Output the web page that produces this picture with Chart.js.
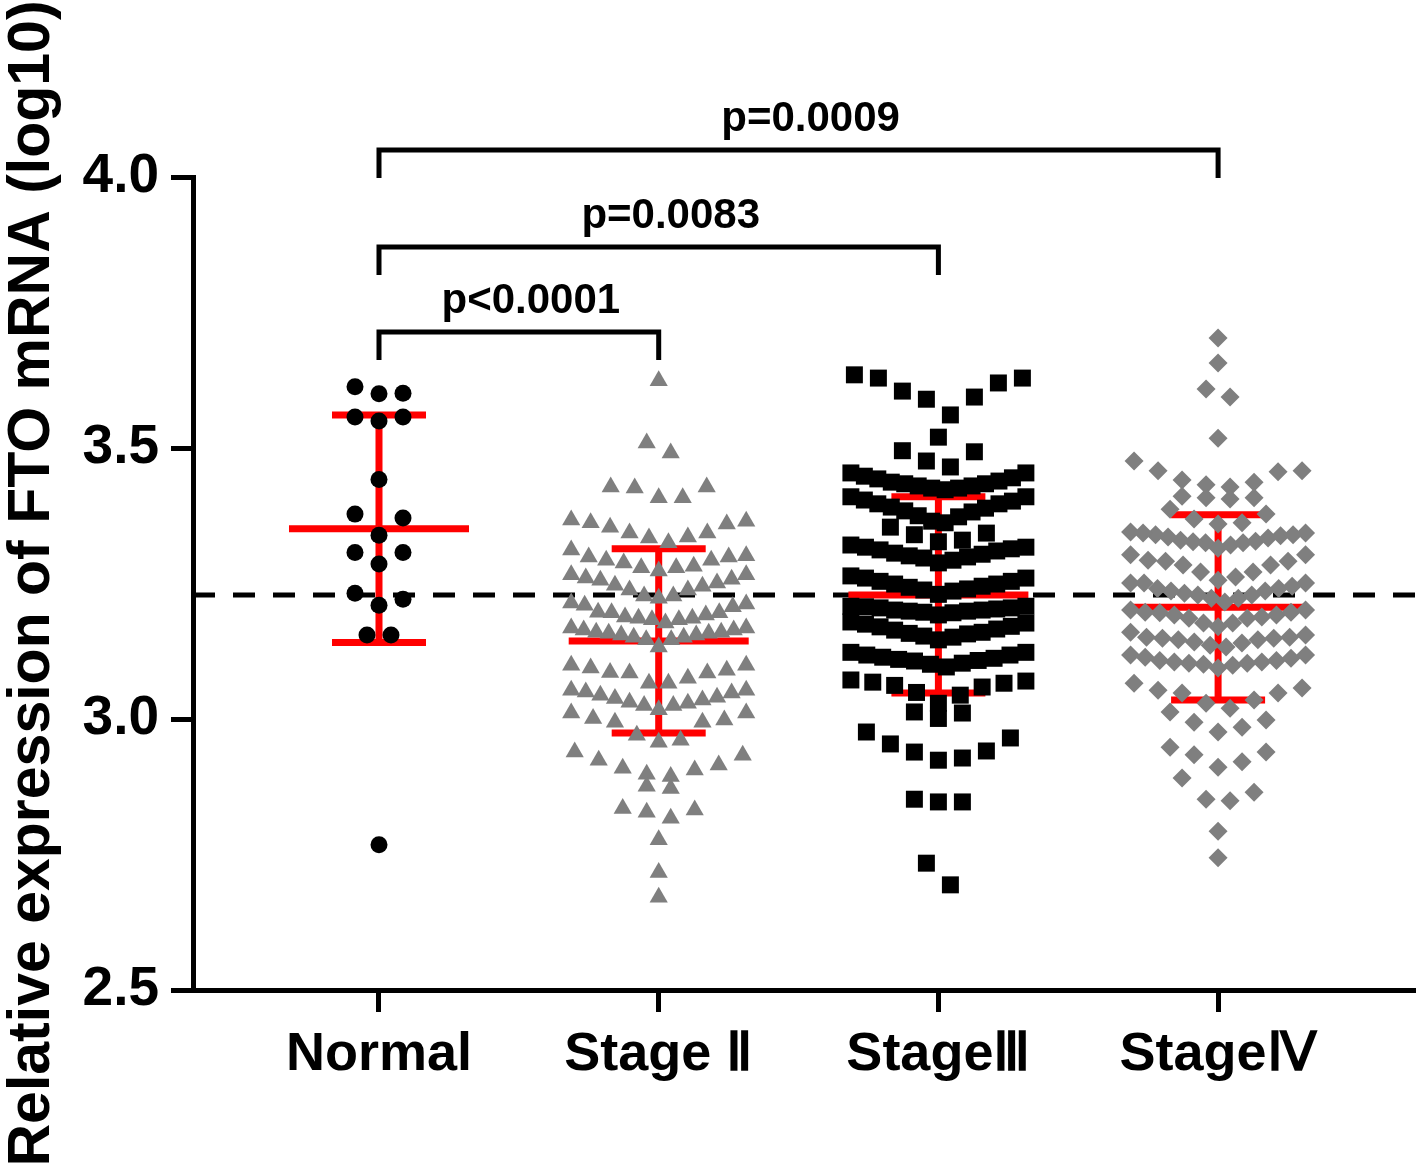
<!DOCTYPE html>
<html>
<head>
<meta charset="utf-8">
<script src="https://cdn.jsdelivr.net/npm/chart.js@4.4.1/dist/chart.umd.min.js"></script>
<style>
  html, body { margin: 0; padding: 0; background: #fff; overflow: hidden; }
  #wrap { width: 1418px; height: 1171px; position: relative; }
  #fto { display: block; }
</style>
</head>
<body>
<div id="wrap"><canvas id="fto"></canvas></div>
<script>
// groups on the x axis
const groups = ['Normal', 'Stage Ⅱ', 'StageⅢ', 'StageⅣ'];

// log10 expression (one inner array = one row of the swarm)
const normalRows = [
  [3.601, 3.600, 3.613],
  [3.557, 3.550, 3.557],
  [3.442],
  [3.378, 3.371, 3.339],
  [3.307, 3.307, 3.286],
  [3.232, 3.221, 3.210],
  [3.155, 3.155],
  [2.768]
];

const stage2Rows = [
  [3.624],
  [3.509, 3.491],
  [3.428, 3.426, 3.408, 3.408, 3.428],
  [3.367, 3.362, 3.354, 3.343, 3.334, 3.325, 3.336, 3.343, 3.360, 3.365],
  [3.312, 3.299, 3.293, 3.288, 3.279, 3.273, 3.279, 3.282, 3.293, 3.299, 3.301],
  [3.266, 3.258, 3.251, 3.245, 3.238, 3.227, 3.223, 3.227, 3.238, 3.247, 3.256, 3.260, 3.266],
  [3.214, 3.212, 3.207, 3.196, 3.188, 3.186, 3.183, 3.177, 3.183, 3.186, 3.192, 3.196, 3.197, 3.210],
  [3.168, 3.164, 3.160, 3.158, 3.155, 3.151, 3.146, 3.133, 3.146, 3.151, 3.155, 3.158, 3.160, 3.164, 3.168],
  [3.099, 3.090, 3.085, 3.075, 3.066, 3.066, 3.085, 3.086, 3.094, 3.099],
  [3.053, 3.048, 3.040, 3.035, 3.029, 3.025, 3.017, 3.025, 3.031, 3.038, 3.044, 3.050, 3.053],
  [3.011, 3.001, 2.994, 2.970, 2.994, 2.998, 3.011, 2.957, 2.961],
  [2.933, 2.924, 2.939, 2.909, 2.898, 2.894, 2.906, 2.915],
  [2.872, 2.876],
  [2.832, 2.817, 2.828, 2.835],
  [2.777],
  [2.717],
  [2.671]
];

const stage3Rows = [
  [3.629, 3.620, 3.594, 3.590, 3.561, 3.605, 3.629, 3.635],
  [3.520],
  [3.495, 3.493, 3.476, 3.465],
  [3.454, 3.445, 3.439, 3.434, 3.430, 3.426, 3.423, 3.426, 3.430, 3.434, 3.437, 3.443, 3.448, 3.454],
  [3.410, 3.404, 3.397, 3.391, 3.384, 3.375, 3.365, 3.362, 3.373, 3.382, 3.389, 3.397, 3.402, 3.410],
  [3.354, 3.340, 3.343, 3.327, 3.330],
  [3.317, 3.312, 3.306, 3.301, 3.299, 3.293, 3.288, 3.297, 3.304, 3.310, 3.314, 3.317, 3.321],
  [3.260, 3.254, 3.249, 3.245, 3.240, 3.236, 3.230, 3.238, 3.243, 3.249, 3.254, 3.260, 3.264],
  [3.208, 3.205, 3.203, 3.201, 3.199, 3.196, 3.192, 3.197, 3.199, 3.201, 3.205, 3.207, 3.208],
  [3.177, 3.171, 3.166, 3.160, 3.157, 3.151, 3.146, 3.153, 3.158, 3.164, 3.170, 3.175, 3.179],
  [3.123, 3.118, 3.114, 3.110, 3.107, 3.101, 3.096, 3.103, 3.108, 3.112, 3.118, 3.123],
  [3.072, 3.068, 3.062, 3.049, 3.029, 3.044, 3.059, 3.066, 3.070],
  [3.013, 3.001, 3.011],
  [2.976, 2.965, 2.954, 2.941, 2.939, 2.928, 2.924],
  [2.852, 2.847, 2.847],
  [2.734, 2.694]
];

const stage4Rows = [
  [3.703],
  [3.657],
  [3.594, 3.609],
  [3.518],
  [3.476, 3.458, 3.456, 3.458, 3.437, 3.428, 3.432, 3.441],
  [3.408, 3.408, 3.411, 3.406],
  [3.387, 3.369, 3.378, 3.360, 3.362],
  [3.343, 3.345, 3.340, 3.336, 3.330, 3.327, 3.325, 3.321, 3.315, 3.325, 3.328, 3.334, 3.338, 3.340, 3.343],
  [3.303, 3.291, 3.284, 3.271, 3.262, 3.256, 3.271, 3.284, 3.291, 3.293, 3.303],
  [3.251, 3.251, 3.241, 3.236, 3.232, 3.229, 3.223, 3.216, 3.223, 3.229, 3.236, 3.241, 3.245, 3.251],
  [3.201, 3.197, 3.192, 3.188, 3.186, 3.177, 3.170, 3.177, 3.186, 3.192, 3.196, 3.197, 3.201],
  [3.160, 3.151, 3.149, 3.146, 3.142, 3.133, 3.136, 3.140, 3.146, 3.149, 3.151, 3.155],
  [3.118, 3.108, 3.105, 3.103, 3.101, 3.118, 3.094, 3.099, 3.103, 3.105, 3.108, 3.112, 3.114],
  [3.066, 3.053, 3.048, 3.029, 3.020, 3.035, 3.048, 3.057],
  [3.013, 2.994, 2.976, 2.985, 2.998],
  [2.939, 2.921, 2.911, 2.934, 2.948],
  [2.891, 2.865, 2.849, 2.852],
  [2.793],
  [2.744]
];

// mean +/- SD per group
const groupMeans = [3.351, 3.144, 3.229, 3.206];
const groupSD = [0.210, 0.170, 0.181, 0.171];

// dashed reference line
const refLevel = 3.229;

// significance brackets
const comparisons = [[0, 1], [0, 2], [0, 3]];
const pLabels = ['p<0.0001', 'p=0.0083', 'p=0.0009'];
const bracketLevels = [3.714, 3.871, 4.050];

const yTicks = [2.5, 3.0, 3.5, 4.0];

const allRows = [normalRows, stage2Rows, stage3Rows, stage4Rows];
const FONT = '"Liberation Sans", Arial, sans-serif';

const errorBars = {
  id: 'errorBars',
  beforeDatasetsDraw(chart) {
    const { ctx, chartArea, scales: { x, y } } = chart;
    ctx.save();
    // dashed line across the plot
    const yr = y.getPixelForValue(refLevel);
    ctx.strokeStyle = '#000';
    ctx.lineWidth = 5;
    ctx.setLineDash([22, 18]);
    ctx.beginPath();
    ctx.moveTo(chartArea.left, yr);
    ctx.lineTo(chartArea.right, yr);
    ctx.stroke();
    ctx.setLineDash([]);
    // red mean and SD bars
    ctx.strokeStyle = '#ff0000';
    ctx.lineWidth = 7;
    groupMeans.forEach((m, i) => {
      const cx = x.getPixelForValue(i);
      const top = y.getPixelForValue(m + groupSD[i]);
      const bot = y.getPixelForValue(m - groupSD[i]);
      const mid = y.getPixelForValue(m);
      ctx.beginPath();
      ctx.moveTo(cx, top); ctx.lineTo(cx, bot);
      ctx.moveTo(cx - 47, top); ctx.lineTo(cx + 47, top);
      ctx.moveTo(cx - 47, bot); ctx.lineTo(cx + 47, bot);
      ctx.moveTo(cx - 90, mid); ctx.lineTo(cx + 90, mid);
      ctx.stroke();
    });
    ctx.restore();
  }
};

const brackets = {
  id: 'brackets',
  afterDraw(chart) {
    const { ctx, scales: { x, y } } = chart;
    ctx.save();
    ctx.strokeStyle = '#000';
    ctx.fillStyle = '#000';
    ctx.lineWidth = 5;
    ctx.font = 'bold 42px ' + FONT;
    ctx.textAlign = 'center';
    ctx.textBaseline = 'alphabetic';
    comparisons.forEach(([a, b], i) => {
      const x1 = x.getPixelForValue(a);
      const x2 = x.getPixelForValue(b);
      const yb = y.getPixelForValue(bracketLevels[i]);
      ctx.beginPath();
      ctx.moveTo(x1, yb + 28);
      ctx.lineTo(x1, yb);
      ctx.lineTo(x2, yb);
      ctx.lineTo(x2, yb + 28);
      ctx.stroke();
      ctx.fillText(pLabels[i], (x1 + x2) / 2 + 12, yb - 19);
    });
    ctx.restore();
  }
};

const styles = [
  { pointStyle: 'circle', radius: 8.5, color: '#000000' },
  { pointStyle: 'triangle', radius: 10.5, color: '#7f7f7f' },
  { pointStyle: 'rect', radius: 12, color: '#000000' },
  { pointStyle: 'rectRot', radius: 9.5, color: '#7f7f7f' }
];

const datasets = allRows.map((rows, gi) => ({
  label: groups[gi],
  data: rows.flat().map(v => ({ x: gi, y: v })),
  pointStyle: styles[gi].pointStyle,
  pointRadius: styles[gi].radius,
  backgroundColor: styles[gi].color,
  borderWidth: 0
}));

const chart = new Chart(document.getElementById('fto'), {
  type: 'scatter',
  data: { datasets },
  options: {
    responsive: true,
    maintainAspectRatio: false,
    animation: false,
    events: [],
    layout: { autoPadding: false, padding: { top: 177, right: 3, left: 0, bottom: 0 } },
    plugins: { legend: { display: false }, tooltip: { enabled: false } },
    scales: {
      x: {
        type: 'linear',
        min: -0.665,
        max: 3.704,
        afterBuildTicks: s => { s.ticks = groups.map((g, i) => ({ value: i })); },
        afterFit: s => {
          s.height = 181;
          s.paddingLeft = 0;
          s.paddingRight = 0;
        },
        ticks: {
          callback: (v, i) => groups[i],
          autoSkip: false,
          maxRotation: 0,
          padding: 11,
          color: '#000',
          font: { family: FONT, size: 54, weight: 'bold' }
        },
        grid: { drawOnChartArea: false, drawTicks: true, tickLength: 22, tickWidth: 5, tickColor: '#000' },
        border: { display: true, color: '#000', width: 5 }
      },
      y: {
        min: 2.5,
        max: 4.0,
        afterBuildTicks: s => { s.ticks = yTicks.map(v => ({ value: v })); },
        afterFit: s => { s.width = 193; },
        ticks: {
          callback: v => v.toFixed(1),
          padding: 12,
          color: '#000',
          font: { family: FONT, size: 55, weight: 'bold' }
        },
        grid: { drawOnChartArea: false, drawTicks: true, tickLength: 22, tickWidth: 5, tickColor: '#000' },
        border: { display: true, color: '#000', width: 5 },
        title: {
          display: true,
          text: 'Relative expression of FTO mRNA (log10)',
          color: '#000',
          padding: { top: 3, bottom: 0 },
          font: { family: FONT, size: 59, weight: 'bold', lineHeight: 1 }
        }
      }
    }
  },
  plugins: [errorBars, brackets]
});

// lay out each row of the swarm around its group centre, lowest value in the middle
function spreadRows(ch) {
  const xs = ch.scales.x;
  allRows.forEach((rows, gi) => {
    const pts = ch.data.datasets[gi].data;
    const cx = xs.getPixelForValue(gi);
    let k = 0;
    rows.forEach(row => {
      const n = row.length;
      const step = n > 1 ? Math.min(24, 175 / (n - 1)) : 0;
      row.slice().sort((a, b) => a - b).forEach((v, j) => {
        let slot;
        if (n % 2) slot = j === 0 ? 0 : (j % 2 ? 1 : -1) * Math.ceil(j / 2);
        else slot = (j % 2 ? -1 : 1) * (Math.floor(j / 2) + 0.5);
        pts[k].x = xs.getValueForPixel(cx + slot * step);
        pts[k].y = v;
        k++;
      });
    });
  });
  ch.update('none');
}
spreadRows(chart);
</script>
</body>
</html>
